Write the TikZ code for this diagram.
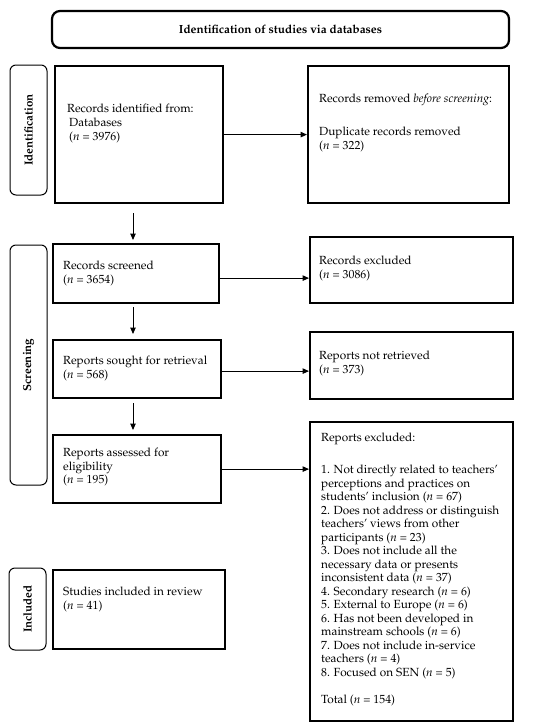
\documentclass[tikz,border=0pt]{standalone}
\usepackage[T1]{fontenc}
\usepackage{mathpazo}
\usetikzlibrary{arrows.meta}
\begin{document}
\begin{tikzpicture}[x=1pt,y=-1pt,
  box/.style={draw, line width=2.2pt, anchor=north west, inner sep=0pt},
  topbox/.style={draw, line width=2.2pt, rounded corners=8pt, inner sep=0pt, font=\fontsize{11.8}{13}\selectfont\bfseries},
  sidebox/.style={draw, line width=1pt, rounded corners=6pt, inner sep=0pt, rotate=90, font=\fontsize{11.6}{13}\selectfont\bfseries},
  txt/.style={anchor=base west, align=left, inner sep=0pt, font=\fontsize{11.8}{13.5}\selectfont},
  arr/.style={line width=1pt, -{Triangle[length=6.5pt,width=5.5pt]}}]
\useasboundingbox (0,0) rectangle (550,728);
% title
\node[topbox, minimum width=457pt, minimum height=37pt] (top) at (280.5,29.5) {Identification of studies via databases};
% side labels
\node[sidebox, minimum width=130pt, minimum height=37pt] (l1) at (28.5,130) {Identification};
\node[sidebox, minimum width=240pt, minimum height=37pt] (l2) at (28.5,365) {Screening};
\node[sidebox, minimum width=82pt, minimum height=37pt] (l3) at (27.5,609) {Included};
% boxes
\node[box, minimum width=168pt, minimum height=137pt] (b1) at (54,65) {};
\node[box, minimum width=201pt, minimum height=137pt] (b2) at (307,65) {};
\node[box, minimum width=166pt, minimum height=59pt] (b3) at (52,243) {};
\node[box, minimum width=203pt, minimum height=66pt] (b4) at (309,236) {};
\node[box, minimum width=168pt, minimum height=58pt] (b5) at (52,339) {};
\node[box, minimum width=203pt, minimum height=67pt] (b6) at (309,331) {};
\node[box, minimum width=168pt, minimum height=68pt] (b7) at (52,434) {};
\node[box, minimum width=203pt, minimum height=299pt] (b8) at (309,421) {};
\node[box, minimum width=172pt, minimum height=79pt] (b9) at (52,569) {};
% texts (anchor = baseline of the last line)
\node[txt] (t1) at (67,140) {Records identified from:\\[0.2pt]\hspace{2pt}Databases\\[0.2pt]\hspace{2pt}(\textit{n} = 3976)};
\node[txt] (t2) at (319,149) {Records removed \textit{before screening}:\\[19.5pt]Duplicate records removed\\(\textit{n} = 322)};
\node[txt] (t3) at (63,283) {Records screened\\(\textit{n} = 3654)};
\node[txt] (t4) at (319,278) {Records excluded\\(\textit{n} = 3086)};
\node[txt] (t5) at (63,378) {Reports sought for retrieval\\(\textit{n} = 568)};
\node[txt] (t6) at (319,373) {Reports not retrieved\\(\textit{n} = 373)};
\node[txt] (t7) at (63,483.7) {Reports assessed for\\eligibility\\(\textit{n} = 195)};
\node[txt] (t8) at (321,703) {Reports excluded:\\[18.5pt]
1. Not directly related to teachers'\\
perceptions and practices on\\
students' inclusion (\textit{n} = 67)\\
2. Does not address or distinguish\\
teachers' views from other\\
participants (\textit{n} = 23)\\
3. Does not include all the\\
necessary data or presents\\
inconsistent data (\textit{n} = 37)\\
4. Secondary research (\textit{n} = 6)\\
5. External to Europe (\textit{n} = 6)\\
6. Has not been developed in\\
mainstream schools (\textit{n} = 6)\\
7. Does not include in-service\\
teachers (\textit{n} = 4)\\
8. Focused on SEN (\textit{n} = 5)\\[13.5pt]
Total (\textit{n} = 154)};
\node[txt] (t9) at (63,609.3) {Studies included in review\\(\textit{n} = 41)};
% horizontal arrows
\draw[arr] (b1.east) -- (b1.east -| b2.west);
\draw[arr] ([yshift=-4.5pt]b3.east) -- ([yshift=-4.5pt]b3.east -| b4.west);
\draw[arr] ([yshift=-2pt]b5.east) -- ([yshift=-2pt]b5.east -| b6.west);
\draw[arr] (b7.east) -- (b7.east -| b8.west);
% vertical arrows
\coordinate (v1) at (133,213);
\coordinate (v2) at (133,307);
\coordinate (v3) at (133,403);
\draw[arr, shorten >=3pt] (v1) -- (v1 |- b3.north);
\draw[arr, shorten >=5pt] (v2) -- (v2 |- b5.north);
\draw[arr, shorten >=4pt] (v3) -- (v3 |- b7.north);
\end{tikzpicture}
\end{document}
